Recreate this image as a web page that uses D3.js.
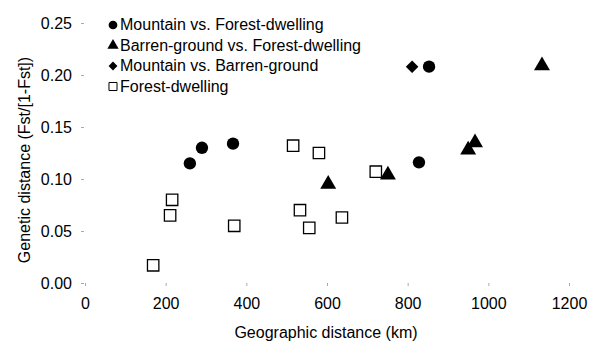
<!DOCTYPE html>
<html>
<head>
<meta charset="utf-8">
<script src="https://cdn.jsdelivr.net/npm/d3@7"></script>
<style>
  body { margin: 0; background: #fff; }
  text { font-family: "Liberation Sans", Arial, sans-serif; fill: #000; }
</style>
</head>
<body>
<svg id="chart"></svg>
<script>
// data
const mountainForestX = [260, 290, 367, 828, 853]
const mountainForestY = [0.115, 0.130, 0.134, 0.116, 0.208]
const barrenForestX = [603, 751, 950, 967, 1133]
const barrenForestY = [0.095, 0.104, 0.128, 0.135, 0.209]
const mountainBarrenX = [811]
const mountainBarrenY = [0.208]
const forestX = [169, 211, 216, 370, 516, 533, 556, 580, 637, 721]
const forestY = [0.017, 0.065, 0.080, 0.055, 0.132, 0.070, 0.053, 0.125, 0.063, 0.107]
const xTicks = [0, 200, 400, 600, 800, 1000, 1200]
const yTicks = [0, 0.05, 0.10, 0.15, 0.20, 0.25]
const seriesNames = ["Mountain vs. Forest-dwelling", "Barren-ground vs. Forest-dwelling",
    "Mountain vs. Barren-ground", "Forest-dwelling"]

const width = 590
const height = 342
const svg = d3.select("#chart").attr("width", width).attr("height", height)

const x = d3.scaleLinear().domain([0, 1200]).range([85, 569])
const y = d3.scaleLinear().domain([0, 0.25]).range([283, 23])

// axes: no domain line, faint ticks only
const xAxis = svg.append("g").attr("transform", `translate(0, 283)`)
    .call(d3.axisBottom(x).tickValues(xTicks).tickSize(3).tickPadding(12).tickFormat(d3.format("d")))
const yAxis = svg.append("g").attr("transform", `translate(84, 0)`)
    .call(d3.axisLeft(y).tickValues(yTicks).tickSize(3).tickPadding(9).tickFormat(d3.format(".2f")))
svg.selectAll(".domain").remove()
svg.selectAll(".tick line").attr("stroke", "#aaa")
svg.selectAll(".tick text").style("font-size", "16px").attr("fill", "#000")

svg.append("text").attr("x", 326).attr("y", 338).attr("text-anchor", "middle")
    .style("font-size", "16px").text("Geographic distance (km)")
svg.append("text").attr("transform", "translate(30, 160) rotate(-90)").attr("text-anchor", "middle")
    .style("font-size", "16px").text("Genetic distance (Fst/[1-Fst])")

const zip = (xs, ys) => xs.map((d, i) => ({ x: d, y: ys[i] }))

const shapes = [
    { data: zip(mountainForestX, mountainForestY), type: d3.symbolCircle, size: 120, fill: "#000" },
    { data: zip(barrenForestX, barrenForestY), type: d3.symbolTriangle, size: 110, fill: "#000" },
    { data: zip(mountainBarrenX, mountainBarrenY), type: d3.symbolDiamond2, size: 100, fill: "#000" },
    { data: zip(forestX, forestY), type: d3.symbolSquare, size: 130, fill: "#fff" }
]

// forest squares drawn first so filled marks sit on top
const order = [3, 0, 1, 2]
order.forEach(i => {
    const s = shapes[i]
    svg.append("g").selectAll("path")
        .data(s.data)
        .join("path")
        .attr("transform", d => `translate(${x(d.x)}, ${y(d.y)})`)
        .attr("d", d3.symbol().type(s.type).size(s.size))
        .attr("fill", s.fill)
        .attr("stroke", i == 3 ? "#000" : "none")
        .attr("stroke-width", 1.3)
})

// legend
const legend = svg.append("g")
seriesNames.forEach((name, i) => {
    const s = shapes[i]
    const ly = 24 + i * 20.5
    legend.append("path")
        .attr("transform", `translate(113, ${ly + 1})`)
        .attr("d", d3.symbol().type(s.type).size(s.size * 0.5))
        .attr("fill", s.fill)
        .attr("stroke", i == 3 ? "#000" : "none")
        .attr("stroke-width", 1)
    legend.append("text").attr("x", 120).attr("y", ly + 6)
        .style("font-size", "16px").text(name)
})
</script>
</body>
</html>
